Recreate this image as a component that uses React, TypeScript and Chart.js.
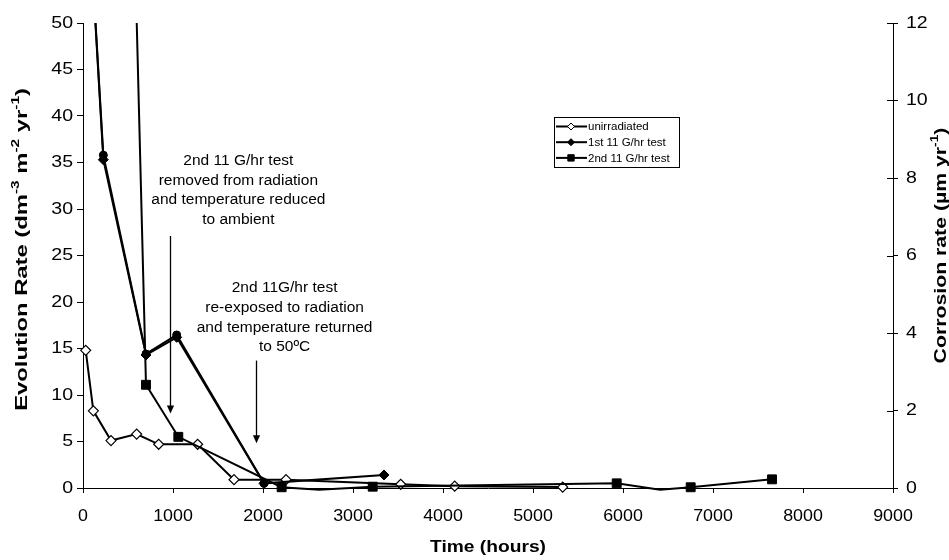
import React, { useEffect, useRef } from 'react';
import { Chart, registerables } from 'chart.js';
import { drawPoint } from 'chart.js/helpers';

Chart.register(...registerables);

// ---------- data ----------
const unirrTime = [30, 115, 311, 596, 841, 1274, 1678, 2256, 3530, 4130, 5330];
const unirrRate = [14.8, 8.3, 5.1, 5.8, 4.7, 4.7, 0.9, 0.9, 0.4, 0.2, 0.1];

const test1Time = [30, 226, 700, 1041, 2011, 3344];
const test1Rate = [68, 35.3, 14.3, 16.2, 0.5, 1.4];

// corrosion-rate companion of the 1st test (right axis, µm/yr)
const test1CorrTime = [30, 226, 700, 1041, 2011];
const test1Corr = [16.3, 8.59, 3.46, 3.95, 0.12];

const test2Time = [200, 700, 1059, 2207, 2622, 3219, 5930, 6411, 6752, 7656];
const test2Rate = [200, 11.1, 5.5, 0.08, -0.2, 0.14, 0.5, -0.2, 0.08, 0.93];

const xTicks = [0, 1000, 2000, 3000, 4000, 5000, 6000, 7000, 8000, 9000];
const leftTicks = [0, 5, 10, 15, 20, 25, 30, 35, 40, 45, 50];
const rightTicks = [0, 2, 4, 6, 8, 10, 12];

const seriesLabels = ['unirradiated', '1st 11 G/hr test', '2nd 11 G/hr test'];

const note1Lines = ['2nd 11 G/hr test', 'removed from radiation', 'and temperature reduced', 'to ambient'];
const note2Lines = ['2nd 11G/hr test', 're-exposed to radiation', 'and temperature returned', 'to 50ºC'];

// annotation anchors (data coordinates: hours / evolution rate)
const note1Anchor = { x: 1726, y: 35.2 };
const note2Anchor = { x: 2240, y: 21.5 };
const arrow1 = { x: 970, from: 27.1, to: 8.0 };
const arrow2 = { x: 1919, from: 13.7, to: 4.8 };

const FONT = '"Liberation Sans", Arial, Helvetica, sans-serif';

type Seg = { t: string; sup?: boolean };

const leftTitle: Seg[] = [
  { t: 'Evolution Rate (dm' }, { t: '-3', sup: true }, { t: ' m' }, { t: '-2', sup: true },
  { t: ' yr' }, { t: '-1', sup: true }, { t: ')' },
];
const rightTitle: Seg[] = [
  { t: 'Corrosion rate (\u00b5m yr' }, { t: '-1', sup: true }, { t: ')' },
];
const bottomTitle: Seg[] = [{ t: 'Time (hours)' }];

function toPoints(xs: number[], ys: number[]) {
  return xs.map((x, i) => ({ x, y: ys[i] }));
}

function drawRich(ctx: CanvasRenderingContext2D, segs: Seg[], cx: number, cy: number, size: number,
  bold: boolean, rot: number, sx: number) {
  ctx.save();
  ctx.translate(cx, cy);
  ctx.rotate(rot);
  ctx.scale(sx, 1);
  const main = `${bold ? 'bold ' : ''}${size}px ${FONT}`;
  const small = `${bold ? 'bold ' : ''}${Math.round(size * 0.62)}px ${FONT}`;
  let w = 0;
  for (const s of segs) { ctx.font = s.sup ? small : main; w += ctx.measureText(s.t).width; }
  let x = -w / 2;
  ctx.textBaseline = 'middle';
  ctx.textAlign = 'left';
  for (const s of segs) {
    ctx.font = s.sup ? small : main;
    ctx.fillText(s.t, x, s.sup ? -size * 0.36 : 0);
    x += ctx.measureText(s.t).width;
  }
  ctx.restore();
}

function stretchText(ctx: CanvasRenderingContext2D, text: string, x: number, y: number,
  align: CanvasTextAlign, size: number, sx: number) {
  ctx.save();
  ctx.translate(x, y);
  ctx.scale(sx, 1);
  ctx.font = `${size}px ${FONT}`;
  ctx.textAlign = align;
  ctx.textBaseline = 'middle';
  ctx.fillText(text, 0, 0);
  ctx.restore();
}

const overlay = {
  id: 'overlay',
  afterDraw(chart: any) {
    const ctx: CanvasRenderingContext2D = chart.ctx;
    const xs = chart.scales.x, ys = chart.scales.y, y2 = chart.scales.y2;
    const area = chart.chartArea;
    ctx.save();
    ctx.fillStyle = '#000';
    ctx.strokeStyle = '#000';

    // tick labels
    xTicks.forEach(v => stretchText(ctx, String(v), xs.getPixelForValue(v), area.bottom + 28, 'center', 17, 1.05));
    leftTicks.forEach(v => stretchText(ctx, String(v), area.left - 10, ys.getPixelForValue(v), 'right', 17, 1.15));
    rightTicks.forEach(v => stretchText(ctx, String(v), area.right + 13, y2.getPixelForValue(v), 'left', 17, 1.15));

    // inward half of the right-axis cross ticks
    ctx.lineWidth = 1;
    rightTicks.forEach(v => {
      const py = Math.round(y2.getPixelForValue(v)) + 0.5;
      ctx.beginPath();
      ctx.moveTo(area.right - 6, py);
      ctx.lineTo(area.right, py);
      ctx.stroke();
    });

    // axis titles
    drawRich(ctx, leftTitle, 22, (area.top + area.bottom) / 2 - 6, 17, true, -Math.PI / 2, 1.4);
    drawRich(ctx, rightTitle, 941, (area.top + area.bottom) / 2 - 10, 17, true, -Math.PI / 2, 1.25);
    drawRich(ctx, bottomTitle, (area.left + area.right) / 2, 548, 16, true, 0, 1.2);

    // annotation notes
    ctx.font = `15.5px ${FONT}`;
    ctx.textAlign = 'center';
    ctx.textBaseline = 'middle';
    const drawNote = (lines: string[], a: { x: number; y: number }) => {
      const cx = xs.getPixelForValue(a.x);
      const top = ys.getPixelForValue(a.y);
      lines.forEach((l, i) => ctx.fillText(l, cx, top + i * 19.7));
    };
    drawNote(note1Lines, note1Anchor);
    drawNote(note2Lines, note2Anchor);

    // arrows
    const drawArrow = (a: { x: number; from: number; to: number }) => {
      const px = Math.round(xs.getPixelForValue(a.x)) + 0.5;
      const y0 = ys.getPixelForValue(a.from);
      const y1 = ys.getPixelForValue(a.to);
      ctx.lineWidth = 1.3;
      ctx.beginPath();
      ctx.moveTo(px, y0);
      ctx.lineTo(px, y1 - 6);
      ctx.stroke();
      ctx.beginPath();
      ctx.moveTo(px - 3.6, y1 - 8);
      ctx.lineTo(px + 3.6, y1 - 8);
      ctx.lineTo(px, y1);
      ctx.closePath();
      ctx.fill();
    };
    drawArrow(arrow1);
    drawArrow(arrow2);

    // legend
    const lx = 554, ly = 117, lw = 125, lh = 50;
    ctx.fillStyle = '#fff';
    ctx.fillRect(lx, ly, lw, lh);
    ctx.lineWidth = 1;
    ctx.strokeStyle = '#000';
    ctx.strokeRect(lx + 0.5, ly + 0.5, lw, lh);
    const legendItems = chart.data.datasets
      .filter((d: any) => seriesLabels.includes(d.label))
      .sort((a: any, b: any) => seriesLabels.indexOf(a.label) - seriesLabels.indexOf(b.label));
    legendItems.forEach((d: any, i: number) => {
      const ry = ly + 9.5 + i * 15.7;
      ctx.strokeStyle = '#000';
      ctx.lineWidth = 2;
      ctx.beginPath();
      ctx.moveTo(lx + 2, ry);
      ctx.lineTo(lx + 33, ry);
      ctx.stroke();
      ctx.fillStyle = d.pointBackgroundColor;
      ctx.strokeStyle = '#000';
      ctx.lineWidth = 1;
      drawPoint(ctx, { pointStyle: d.pointStyle, radius: d.legendRadius, rotation: 0, borderWidth: 1 } as any, lx + 17, ry);
      ctx.fillStyle = '#000';
      ctx.font = `11.5px ${FONT}`;
      ctx.textAlign = 'left';
      ctx.textBaseline = 'middle';
      ctx.fillText(d.label, lx + 34, ry + 0.5);
    });

    ctx.restore();
  },
};

const hideNegative = (r: number) => (c: any) => (c.raw && c.raw.y < 0 ? 0 : r);

export default function App() {
  const ref = useRef<HTMLCanvasElement | null>(null);

  useEffect(() => {
    document.body.style.margin = '0';
    const canvas = ref.current;
    if (!canvas) return;
    const clip = { left: 10, top: 0, right: 10, bottom: 10 };
    const common = { tension: 0, borderColor: '#000', borderWidth: 2, pointBorderColor: '#000', clip };
    const chart = new Chart(canvas, {
      type: 'line',
      data: {
        datasets: [
          {
            ...common,
            label: seriesLabels[2],
            data: toPoints(test2Time, test2Rate),
            yAxisID: 'y',
            pointStyle: 'rect',
            pointRadius: hideNegative(6.3),
            pointBackgroundColor: '#000',
            pointBorderWidth: 1,
            legendRadius: 4.5,
          } as any,
          {
            ...common,
            label: seriesLabels[1],
            data: toPoints(test1Time, test1Rate),
            yAxisID: 'y',
            pointStyle: 'rectRot',
            pointRadius: 5,
            pointBackgroundColor: '#000',
            pointBorderWidth: 1,
            legendRadius: 3.5,
          } as any,
          {
            ...common,
            label: 'corrosion',
            data: toPoints(test1CorrTime, test1Corr),
            yAxisID: 'y2',
            pointStyle: 'circle',
            pointRadius: 4,
            pointBackgroundColor: '#000',
            pointBorderWidth: 1,
          } as any,
          {
            ...common,
            label: seriesLabels[0],
            data: toPoints(unirrTime, unirrRate),
            yAxisID: 'y',
            pointStyle: 'rectRot',
            pointRadius: 5,
            pointBackgroundColor: '#fff',
            pointBorderWidth: 1.2,
            legendRadius: 3.5,
          } as any,
        ],
      },
      options: {
        animation: false,
        responsive: false,
        devicePixelRatio: 1,
        layout: { padding: { top: 23, left: 0, right: 0, bottom: 0 } },
        plugins: { legend: { display: false }, tooltip: { enabled: false } },
        scales: {
          x: {
            type: 'linear', min: 0, max: 9000,
            ticks: { stepSize: 1000, display: false },
            grid: { drawOnChartArea: false, drawTicks: true, tickLength: 5, color: '#000' },
            border: { display: true, color: '#000', width: 1 },
            afterFit: (s: any) => { s.height = 72; },
          },
          y: {
            type: 'linear', position: 'left', min: 0, max: 50,
            ticks: { stepSize: 5, display: false },
            grid: { drawOnChartArea: false, drawTicks: true, tickLength: 6, color: '#000' },
            border: { display: true, color: '#000', width: 1 },
            afterFit: (s: any) => { s.width = 83; },
          },
          y2: {
            type: 'linear', position: 'right', min: 0, max: 12,
            ticks: { stepSize: 2, display: false },
            grid: { drawOnChartArea: false, drawTicks: true, tickLength: 5, color: '#000' },
            border: { display: true, color: '#000', width: 1 },
            afterFit: (s: any) => { s.width = 56; },
          },
        },
      } as any,
      plugins: [overlay],
    });
    return () => chart.destroy();
  }, []);

  return <canvas ref={ref} width={949} height={560} style={{ display: 'block' }} />;
}
